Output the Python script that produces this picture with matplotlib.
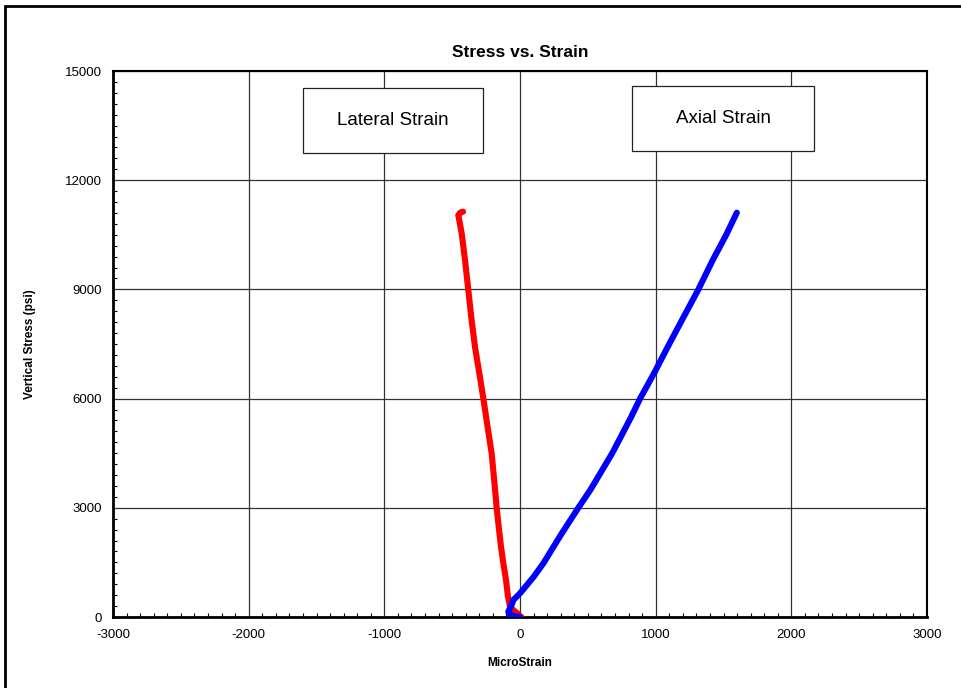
import numpy as np
import matplotlib
matplotlib.use("Agg")
import matplotlib.pyplot as plt
from matplotlib.patches import Rectangle
from matplotlib.ticker import MultipleLocator

plt.rcParams['font.family'] = ['Liberation Sans', 'DejaVu Sans']
plt.rcParams['axes.unicode_minus'] = False

# Lateral strain readings (microstrain) vs vertical stress (psi)
lateral_strain = [10, -5, -12, -40, -74, -90, -103, -122, -140, -156, -172, -190, -209, -240, -270, -300,
                  -332, -358, -381, -405, -430, -445, -455, -440, -420]
lateral_stress = [0, 30, 80, 160, 283, 600, 1016, 1450, 1931, 2450, 3000, 3750, 4497, 5250, 6000, 6700,
                  7426, 8200, 8984, 9800, 10541, 10850, 11040, 11110, 11135]

# Axial strain readings (microstrain) vs vertical stress (psi)
axial_strain = [0, -40, -80, -86, -60, -49, 0, 100, 172, 300, 430, 520, 600, 680, 750, 820, 885, 988,
                1100, 1200, 1315, 1420, 1520, 1598]
axial_stress = [0, 20, 80, 146, 350, 467, 650, 1100, 1474, 2250, 3000, 3500, 4000, 4500, 5000, 5500, 6000,
                6695, 7500, 8200, 9000, 9800, 10500, 11107]

fig = plt.figure(figsize=(9.61, 6.88), dpi=100)
ax = fig.add_axes([113 / 961, 1 - 617 / 688, 814 / 961, 546 / 688])

ax.plot(lateral_strain, lateral_stress, color='#ff0000', lw=4.4, solid_capstyle='round',
        solid_joinstyle='round', zorder=3)
ax.plot(axial_strain, axial_stress, color='#0000ff', lw=4.4, solid_capstyle='round',
        solid_joinstyle='round', zorder=3)

ax.set_xlim(-3000, 3000)
ax.set_ylim(0, 15000)
ax.xaxis.set_major_locator(MultipleLocator(1000))
ax.xaxis.set_minor_locator(MultipleLocator(100))
ax.yaxis.set_major_locator(MultipleLocator(3000))
ax.yaxis.set_minor_locator(MultipleLocator(300))
ax.tick_params(which='both', direction='in', labelsize=9.5, top=False, right=False)
ax.tick_params(which='major', length=0)
ax.tick_params(axis='y', which='major', pad=8)
ax.tick_params(axis='x', which='major', pad=9)
ax.tick_params(which='minor', length=3, width=0.8)
ax.grid(True, which='major', color='#333333', lw=0.9)
ax.set_axisbelow(True)
for side in ['left', 'bottom']:
    ax.spines[side].set_linewidth(2)
for side in ['top', 'right']:
    ax.spines[side].set_linewidth(1.5)

ax.set_title('Stress vs. Strain', fontsize=12.5, fontweight='bold', pad=10)
ax.set_xlabel('MicroStrain', fontsize=8.5, fontweight='bold', labelpad=11)
ax.set_ylabel('Vertical Stress (psi)', fontsize=8.5, fontweight='bold', labelpad=21)

# label boxes for the two curves
boxes = [('Lateral Strain', -1600, -273, 12747, 14533),
         ('Axial Strain', 826, 2167, 12802, 14588)]
for label, x0, x1, y0, y1 in boxes:
    ax.add_patch(Rectangle((x0, y0), x1 - x0, y1 - y0, facecolor='white', edgecolor='#222222',
                           lw=0.9, zorder=4))
    ax.text((x0 + x1) / 2, (y0 + y1) / 2, label, fontsize=13.5, ha='center', va='center', zorder=5)

# outer chart frame
fig.patches.append(Rectangle((5 / 961, -0.05), 1.1, 1 - 6 / 688 + 0.05, transform=fig.transFigure,
                             fill=False, edgecolor='black', lw=2))

fig.savefig('out.png', dpi=100)
